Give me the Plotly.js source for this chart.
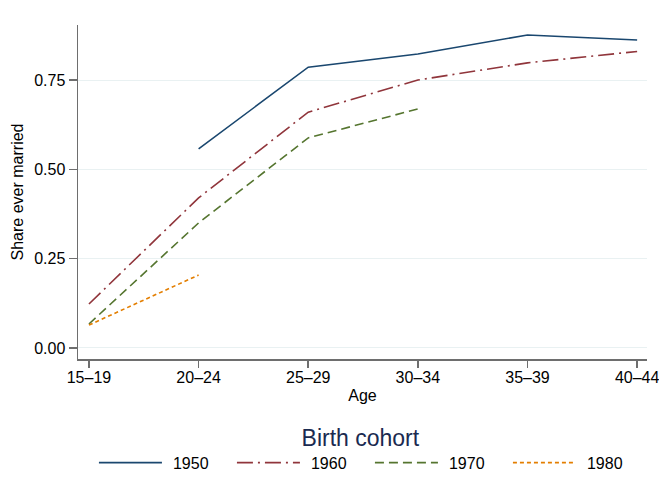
<!DOCTYPE html>
<html>
<head>
<meta charset="utf-8">
<script src="https://cdn.plot.ly/plotly-3.0.1.min.js"></script>
<style>html,body{margin:0;padding:0;background:#fff;}#chart{width:659px;height:495px;}</style>
</head>
<body>
<div id="chart"></div>
<script>
const ageGroups = ["15–19", "20–24", "25–29", "30–34", "35–39", "40–44"];
const cohort1950 = [null, 0.557, 0.786, 0.823, 0.876, 0.862];
const cohort1960 = [0.123, 0.420, 0.660, 0.750, 0.798, 0.830];
const cohort1970 = [0.067, 0.350, 0.588, 0.669, null, null];
const cohort1980 = [0.064, 0.204, null, null, null, null];
const cohortNames = ["1950", "1960", "1970", "1980"];
const yTicks = [0, 0.25, 0.5, 0.75];

const series = [cohort1950, cohort1960, cohort1970, cohort1980];
const colors = ["#1a476f", "#90353b", "#55752f", "#e37e00"];
const dashes = ["solid", "16px,5px,2px,5px", "9px,5px", "4px,3px"];

const traces = series.map((ys, i) => ({
  type: "scatter",
  mode: "lines",
  x: ageGroups.map((_, k) => k),
  y: ys,
  name: cohortNames[i],
  connectgaps: false,
  line: {color: colors[i], width: 1.6, dash: dashes[i]},
  hoverinfo: "skip"
}));

const layout = {
  width: 659, height: 495,
  paper_bgcolor: "#ffffff", plot_bgcolor: "#ffffff",
  font: {family: "Liberation Sans, Arial, sans-serif", size: 16, color: "#000"},
  margin: {l: 78, r: 12, t: 25, b: 136},
  showlegend: true,
  xaxis: {
    range: [-0.1, 5.09],
    tickvals: ageGroups.map((_, k) => k),
    ticktext: ageGroups,
    showgrid: false, zeroline: false,
    showline: true, linecolor: "#6e6e6e", linewidth: 1.5,
    ticks: "outside", ticklen: 7, tickcolor: "#6e6e6e", tickwidth: 1.5,
    tickfont: {size: 16},
    ticklabeloverflow: "allow",
    ticklabelstandoff: -4,
    title: {text: "Age", font: {size: 16}, standoff: 5}
  },
  yaxis: {
    range: [-0.031, 0.904],
    tickvals: yTicks,
    tickformat: ".2f",
    showgrid: true, gridcolor: "#e9f1f2", gridwidth: 1,
    zeroline: false,
    showline: true, linecolor: "#6e6e6e", linewidth: 1.5,
    ticks: "outside", ticklen: 8, tickcolor: "#6e6e6e", tickwidth: 1.5,
    tickfont: {size: 16},
    title: {text: "Share ever married", font: {size: 16}, standoff: 6}
  },
  legend: {
    orientation: "h",
    x: 0.028, xref: "paper", xanchor: "left",
    y: 0.16, yref: "container", yanchor: "top",
    font: {size: 16},
    itemwidth: 69,
    entrywidth: 54,
    title: {text: "Birth cohort&nbsp;&nbsp;&nbsp;", side: "top center", font: {size: 23, color: "#1a2a50"}},
    bgcolor: "rgba(0,0,0,0)"
  }
};

Plotly.newPlot("chart", traces, layout, {displayModeBar: false, staticPlot: true}).then(() => {
  document.querySelectorAll("#chart .legendlines path").forEach(p => p.setAttribute("d", "M5,0h63"));
});
</script>
</body>
</html>
